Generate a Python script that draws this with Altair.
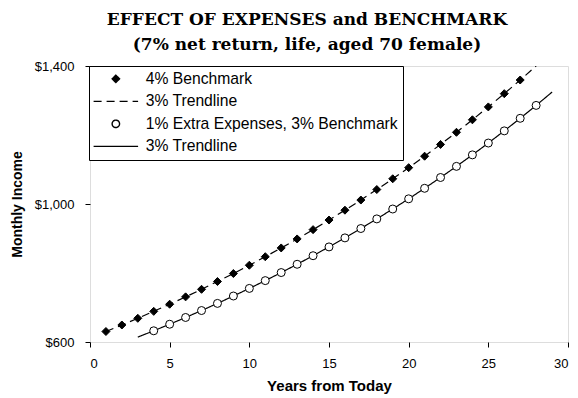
import altair as alt
import pandas as pd

# ---- data ----
series_keys = ["a", "b", "c", "d"]
series_labels = ["4% Benchmark", "3% Trendline", "1% Extra Expenses, 3% Benchmark", "3% Trendline"]

bench_years = list(range(1, 28))
bench_income = [630.4, 649.3, 668.7, 688.8, 709.5, 730.8, 752.7, 775.3, 798.5, 822.5,
                847.2, 872.6, 898.7, 925.7, 953.5, 982.1, 1011.5, 1041.9, 1073.1, 1105.3,
                1138.5, 1172.6, 1207.8, 1244.1, 1281.4, 1319.8, 1359.4]

bench_trend_years = list(range(1, 29))
bench_trend_income = [630.4, 649.3, 668.7, 688.8, 709.5, 730.8, 752.7, 775.3, 798.5, 822.5,
                      847.2, 872.6, 898.7, 925.7, 953.5, 982.1, 1011.5, 1041.9, 1073.1, 1105.3,
                      1138.5, 1172.6, 1207.8, 1244.1, 1281.4, 1319.8, 1359.4, 1400.0]

extra_years = list(range(4, 29))
extra_income = [632.5, 651.5, 671.1, 691.2, 711.9, 733.3, 755.3, 777.9, 801.3, 825.3,
                850.1, 875.6, 901.8, 928.9, 956.8, 985.5, 1015.0, 1045.5, 1076.8, 1109.1,
                1142.4, 1176.7, 1212.0, 1248.4, 1285.8]

extra_trend_years = list(range(3, 30))
extra_trend_income = [614.1, 632.5, 651.5, 671.1, 691.2, 711.9, 733.3, 755.3, 777.9, 801.3,
                      825.3, 850.1, 875.6, 901.8, 928.9, 956.8, 985.5, 1015.0, 1045.5, 1076.8,
                      1109.1, 1142.4, 1176.7, 1212.0, 1248.4, 1285.8, 1324.4]

x_ticks = [0, 5, 10, 15, 20, 25, 30]
y_ticks = [600, 1000, 1400]

# ---- tables ----
points = pd.concat([
    pd.DataFrame({"year": bench_years, "income": bench_income, "series": "a"}),
    pd.DataFrame({"year": extra_years, "income": extra_income, "series": "c"}),
])
trends = pd.concat([
    pd.DataFrame({"year": bench_trend_years, "income": bench_trend_income, "series": "b"}),
    pd.DataFrame({"year": extra_trend_years, "income": extra_trend_income, "series": "d"}),
])

label_map = "{" + ", ".join(f"'{k}': '{v}'" for k, v in zip(series_keys, series_labels)) + "}"

line_path = "M-6.0,0L6.0,0"
shape_scale = alt.Scale(domain=series_keys, range=["diamond", line_path, "circle", line_path])
fill_scale = alt.Scale(domain=series_keys, range=["black", "transparent", "white", "transparent"])
stroke_scale = alt.Scale(domain=series_keys, range=["black", "black", "black", "black"])
dash_scale = alt.Scale(domain=series_keys, range=[[1, 0], [8, 5], [1, 0], [1, 0]])

legend = alt.Legend(
    title=None,
    orient="none",
    legendX=-1,
    legendY=0,
    labelExpr=label_map + "[datum.label]",
    labelFont="Liberation Sans",
    labelFontSize=15.7,
    labelColor="black",
    labelOffset=22,
    labelLimit=400,
    symbolOffset=14,
    symbolSize=55,
    symbolStrokeWidth=1.4,
    rowPadding=5.5,
    padding=5,
    fillColor="white",
    strokeColor="black",
)

x_enc = alt.X("year:Q", scale=alt.Scale(domain=[0, 30], nice=False),
              axis=alt.Axis(values=x_ticks, title="Years from Today", format="d",
                            labelFont="Liberation Sans", labelFontSize=13, labelColor="black",
                            labelPadding=10, titleFont="Liberation Sans", titleFontSize=15,
                            titleFontWeight="bold", titleColor="black", titlePadding=8,
                            tickSize=5, tickColor="black", grid=False, domain=False))
y_enc = alt.Y("income:Q", scale=alt.Scale(domain=[600, 1400], nice=False),
              axis=alt.Axis(values=y_ticks, title="Monthly Income", format="$,.0f",
                            labelFont="Liberation Sans", labelFontSize=13, labelColor="black",
                            labelPadding=11, titleFont="Liberation Sans", titleFontSize=14,
                            titleFontWeight="bold", titleColor="black", titlePadding=10,
                            tickSize=5, tickColor="black", grid=False, domain=False))

trend_layer = alt.Chart(trends).mark_line(clip=True, strokeWidth=1.2).encode(
    x=x_enc,
    y=y_enc,
    detail="series:N",
    stroke=alt.Stroke("series:N", scale=stroke_scale, legend=legend),
    strokeDash=alt.StrokeDash("series:N", scale=dash_scale, legend=legend),
)

point_layer = alt.Chart(points).mark_point(filled=True, size=64, strokeWidth=1, opacity=1).encode(
    x=x_enc,
    y=y_enc,
    shape=alt.Shape("series:N", scale=shape_scale, legend=legend),
    fill=alt.Fill("series:N", scale=fill_scale, legend=legend),
    stroke=alt.Stroke("series:N", scale=stroke_scale, legend=legend),
)

chart = alt.layer(trend_layer, point_layer).properties(
    width=478,
    height=276,
    autosize=alt.AutoSizeParams(type="none"),
    padding={"left": 82, "top": 58, "right": 2, "bottom": 54},
    title=alt.TitleParams(
        text=["EFFECT OF EXPENSES and BENCHMARK", "(7% net return, life, aged 70 female)"],
        font="DejaVu Serif",
        fontSize=17,
        fontWeight="bold",
        color="black",
        anchor="middle",
        dx=-22,
        offset=6,
        lineHeight=25,
    ),
).configure_view(
    stroke="black",
    strokeWidth=3,
).configure(background="white")

chart.save("out.html", embed_options={"renderer": "svg", "actions": False})
